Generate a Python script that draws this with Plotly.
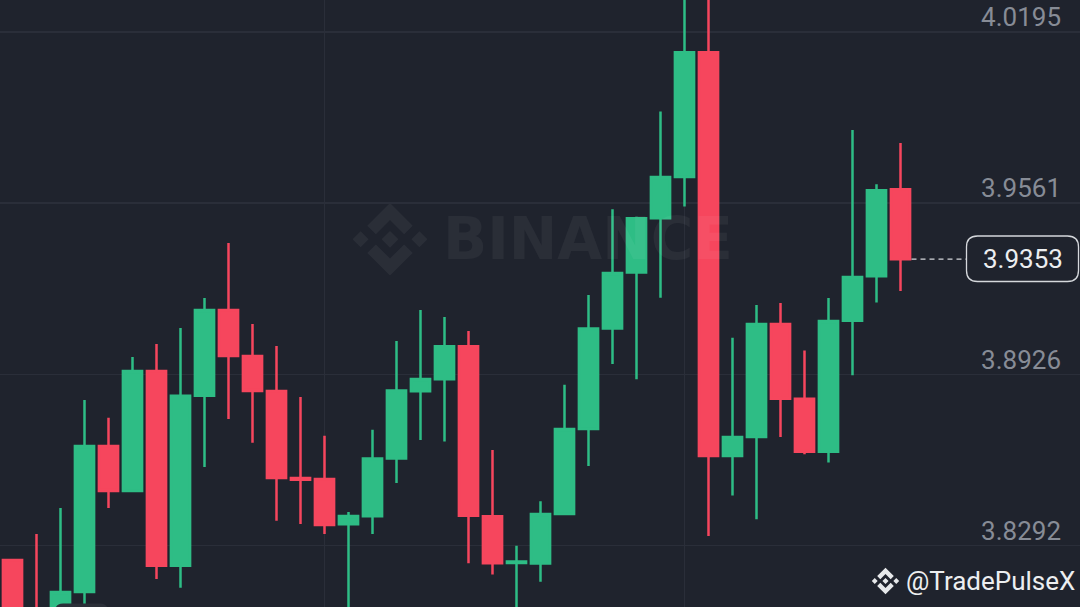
import plotly.graph_objects as go

# ---------------- data ----------------
candle_index = list(range(38))
opens = [3.8238, 3.8030, 3.7980, 3.8120, 3.8661, 3.8494, 3.8939, 3.8217, 3.8847, 3.9165,
         3.8994, 3.8865, 3.8542, 3.8538, 3.8371, 3.8400, 3.8614, 3.8864, 3.8908, 3.9030,
         3.8400, 3.8227, 3.8225, 3.8409, 3.8724, 3.9096, 3.9304, 3.9505, 3.9658, 4.0120,
         3.8624, 3.8694, 3.9113, 3.8836, 3.8639, 3.9125, 3.9290, 3.9612]
highs = [3.8238, 3.8335, 3.8431, 3.8831, 3.8765, 3.8991, 3.9039, 3.9098, 3.9209, 3.9413,
         3.9113, 3.9031, 3.8842, 3.8699, 3.8416, 3.8721, 3.9050, 3.9165, 3.9139, 3.9087,
         3.8646, 3.8291, 3.8456, 3.8888, 3.9220, 3.9538, 3.9510, 3.9900, 4.0350, 4.0400,
         3.9062, 3.9183, 3.9191, 3.9015, 3.9209, 3.9832, 3.9631, 3.9784]
lows = [3.7900, 3.7900, 3.7950, 3.8050, 3.8431, 3.8494, 3.8168, 3.8135, 3.8583, 3.8761,
        3.8673, 3.8384, 3.8372, 3.8335, 3.8000, 3.8335, 3.8524, 3.8683, 3.8677, 3.8226,
        3.8185, 3.8000, 3.8158, 3.8409, 3.8587, 3.8965, 3.8908, 3.9210, 3.9548, 3.8327,
        3.8477, 3.8389, 3.8694, 3.8630, 3.8600, 3.8923, 3.9193, 3.9235]
closes = [3.7980, 3.7960, 3.8120, 3.8661, 3.8494, 3.8939, 3.8217, 3.8847, 3.9165, 3.8994,
          3.8865, 3.8542, 3.8536, 3.8368, 3.8401, 3.8614, 3.8866, 3.8909, 3.9030, 3.8402,
          3.8226, 3.8233, 3.8409, 3.8724, 3.9096, 3.9302, 3.9505, 3.9658, 4.0120, 3.8624,
          3.8694, 3.9113, 3.8836, 3.8639, 3.9124, 3.9287, 3.9609, 3.9353]
price_ticks = [3.8292, 3.8926, 3.9561, 4.0195]
last_price = 3.9353
watermark = "BINANCE"
handle = "@TradePulseX"

# ---------------- style ----------------
W, H = 1080, 607
BG = "#1f232d"
GRID = "#2a2e39"
UP = "#2ebd85"
DOWN = "#f6465d"
X_RANGE = [-12.5 / 24, 45 - 12.5 / 24]
Y_RANGE = [3.80641, 4.03136]


def px(x, y):
    return x / W, 1 - y / H


def logo_path(cx, cy, s):
    polys = [
        [(0, 0.23), (0.23, 0), (0, -0.23), (-0.23, 0)],
        [(-0.81, 0.22), (-0.59, 0), (-0.81, -0.22), (-1.03, 0)],
        [(0.81, 0.22), (1.03, 0), (0.81, -0.22), (0.59, 0)],
        [(0, 1), (0.625, 0.375), (0.39, 0.14), (0, 0.53), (-0.39, 0.14), (-0.625, 0.375)],
        [(0, -1), (0.625, -0.375), (0.39, -0.14), (0, -0.53), (-0.39, -0.14), (-0.625, -0.375)],
    ]
    parts = []
    for poly in polys:
        pts = [px(cx + u * s, cy - v * s) for u, v in poly]
        d = "M%.5f,%.5f " % pts[0] + " ".join("L%.5f,%.5f" % p for p in pts[1:]) + " Z"
        parts.append(d)
    return " ".join(parts)


def rounded_rect(x0, y0, x1, y1, r):
    pts = []
    a = px(x0 + r, y0); pts.append("M%.5f,%.5f" % a)
    b = px(x1 - r, y0); pts.append("L%.5f,%.5f" % b)
    c = px(x1, y0); d = px(x1, y0 + r); pts.append("Q%.5f,%.5f %.5f,%.5f" % (c + d))
    e = px(x1, y1 - r); pts.append("L%.5f,%.5f" % e)
    f = px(x1, y1); g = px(x1 - r, y1); pts.append("Q%.5f,%.5f %.5f,%.5f" % (f + g))
    h = px(x0 + r, y1); pts.append("L%.5f,%.5f" % h)
    i = px(x0, y1); j = px(x0, y1 - r); pts.append("Q%.5f,%.5f %.5f,%.5f" % (i + j))
    k = px(x0, y0 + r); pts.append("L%.5f,%.5f" % k)
    l = px(x0, y0); m = px(x0 + r, y0); pts.append("Q%.5f,%.5f %.5f,%.5f" % (l + m))
    pts.append("Z")
    return " ".join(pts)


fig = go.Figure()
fig.add_trace(go.Candlestick(
    x=candle_index, open=opens, high=highs, low=lows, close=closes,
    increasing=dict(line=dict(color=UP, width=2.5), fillcolor=UP),
    decreasing=dict(line=dict(color=DOWN, width=2.5), fillcolor=DOWN),
    whiskerwidth=0, hoverinfo="skip", showlegend=False,
))

shapes = [
    # watermark logo
    dict(type="path", path=logo_path(390, 239.3, 36.3), xref="paper", yref="paper",
         fillcolor="rgba(255,255,255,0.05)", line=dict(width=0), layer="between"),
    # handle icon
    dict(type="path", path=logo_path(885.5, 581, 13.3), xref="paper", yref="paper",
         fillcolor="#e6e8ea", line=dict(width=0), layer="above"),
    # last price dashed line
    dict(type="line", xref="paper", yref="y", x0=911.5 / W, x1=966 / W,
         y0=last_price, y1=last_price, line=dict(color="#d5d8dc", width=1.2, dash="5px,4px"),
         layer="above"),
    # last price box
    dict(type="path", path=rounded_rect(966.5, 236, 1078.5, 281.5, 11), xref="paper", yref="paper",
         fillcolor=BG, line=dict(color="#d5d8dc", width=1.3), layer="above"),
    # partial label at bottom left
    dict(type="path", path=rounded_rect(55, 603.5, 108, 625, 8), xref="paper", yref="paper",
         fillcolor="#2b2f38", line=dict(width=0), layer="above"),
]

annotations = [
    dict(text=watermark, xref="paper", yref="paper", x=441 / W, y=1 - 239 / H,
         xanchor="left", yanchor="middle", showarrow=False,
         font=dict(family="DejaVu Sans", size=58, color="rgba(255,255,255,0.05)", weight="bold")),
    dict(text="%.4f" % last_price, xref="paper", yref="paper", x=1022.5 / W, y=1 - 259 / H,
         xanchor="center", yanchor="middle", showarrow=False,
         font=dict(family="Roboto", size=26, color="#eceef0")),
    dict(text=handle, xref="paper", yref="paper", x=904 / W, y=1 - 581 / H,
         xanchor="left", yanchor="middle", showarrow=False,
         font=dict(family="Roboto", size=26, color="#eceef0")),
]

fig.update_layout(
    width=W, height=H, margin=dict(l=0, r=0, t=0, b=0),
    paper_bgcolor=BG, plot_bgcolor=BG,
    boxgap=0.2, boxgroupgap=0,
    showlegend=False, hovermode=False,
    shapes=shapes, annotations=annotations,
    xaxis=dict(range=X_RANGE, rangeslider=dict(visible=False), showticklabels=False,
               tickvals=[13, 28], showgrid=True, gridcolor=GRID, gridwidth=1.5,
               zeroline=False, showline=False, ticks=""),
    yaxis=dict(range=Y_RANGE, side="right", tickvals=price_ticks,
               ticktext=["%.4f" % v for v in price_ticks],
               ticklabelposition="inside", ticklabelstandoff=16, ticklabelshift=-15,
               showgrid=True, gridcolor=GRID, gridwidth=1.5, zeroline=False, showline=False,
               ticks="", tickfont=dict(family="Roboto", size=26, color="#878c96")),
)

fig.write_html("out.html", config={"displayModeBar": False, "staticPlot": True},
               post_script="document.body.style.margin='0';")
